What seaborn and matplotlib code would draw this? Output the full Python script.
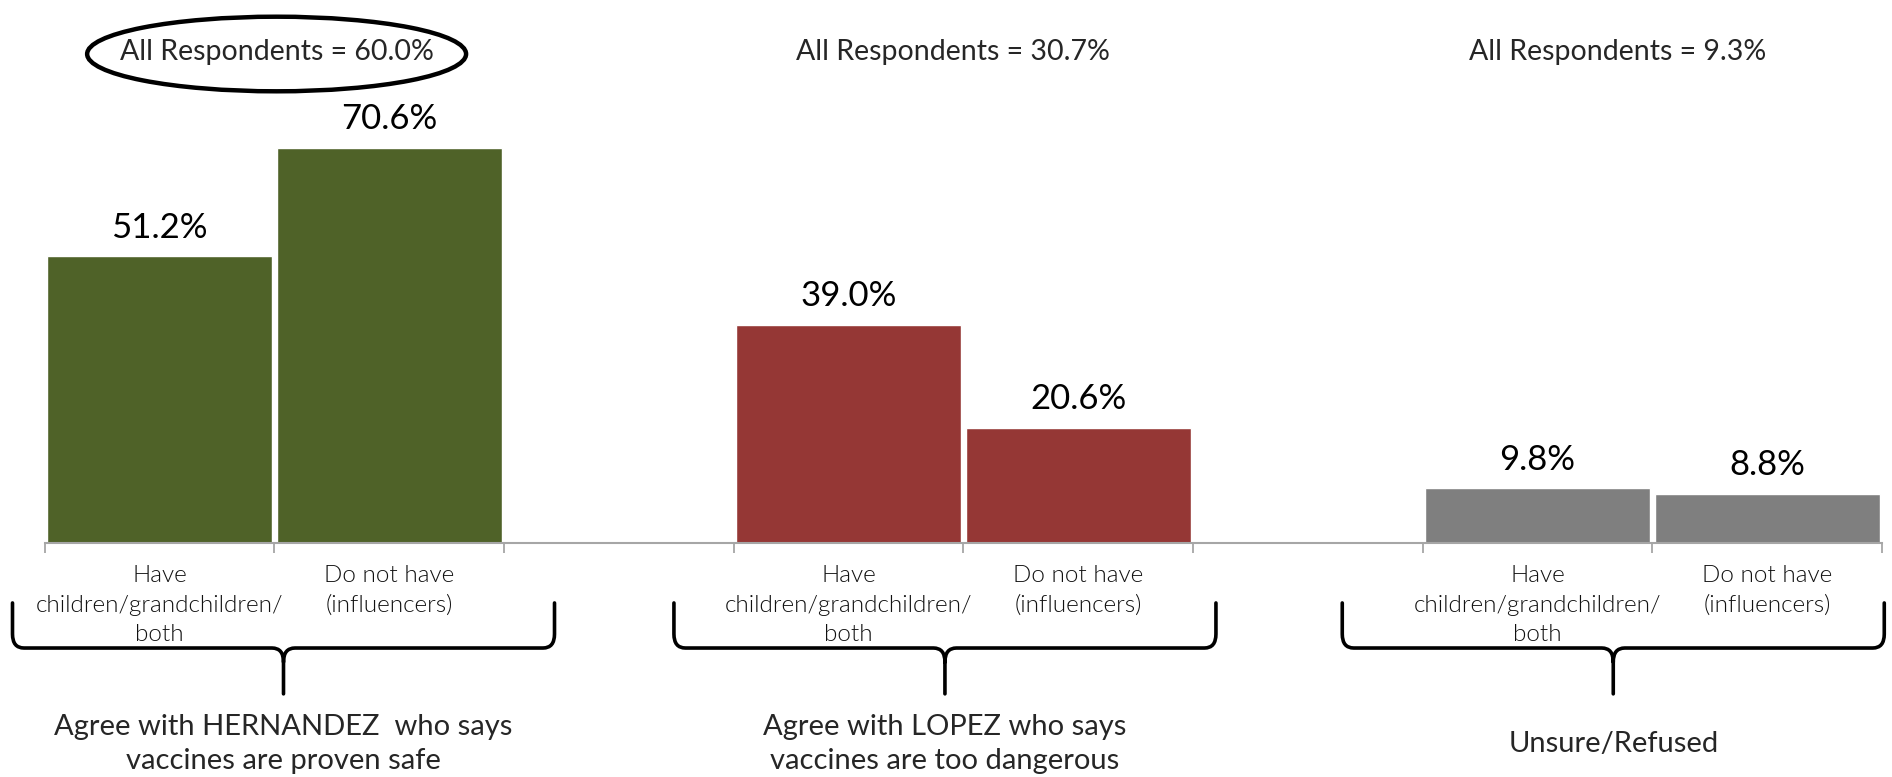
import numpy as np
import pandas as pd
import matplotlib
matplotlib.use("Agg")
import matplotlib.pyplot as plt
import matplotlib.transforms as mtransforms
from matplotlib.path import Path
from matplotlib.patches import PathPatch, Ellipse
import seaborn as sns

# data
groups = ["Agree with HERNANDEZ  who says\nvaccines are proven safe",
          "Agree with LOPEZ who says\nvaccines are too dangerous",
          "Unsure/Refused"]
subgroups = ["Have\nchildren/grandchildren/\nboth", "Do not have\n(influencers)"]
have_kids = [51.2, 39.0, 9.8]
no_kids = [70.6, 20.6, 8.8]
all_resp = [60.0, 30.7, 9.3]
colors = ["#4F6228", "#953735", "#7F7F7F"]

# each group gets two slots, one empty slot between groups
rows = []
for i, g in enumerate(groups):
    rows.append({"slot": 3 * i, "pct": have_kids[i], "group": g, "sub": subgroups[0]})
    rows.append({"slot": 3 * i + 1, "pct": no_kids[i], "group": g, "sub": subgroups[1]})
df = pd.DataFrame(rows)

# layout (x in data units) for the header texts and braces
head_x = [0.51, 3.455, 6.35]
brace_x = [0.54, 3.42, 6.33]
brace_half = 1.18

sns.set_theme(style="white")
plt.rcParams["font.family"] = ["Lato", "DejaVu Sans"]

fig = plt.figure(figsize=(18.92, 7.77), dpi=100)
ax = fig.add_axes([0.0236, 0.3012, 0.9711, 0.5405])

sns.barplot(data=df, x="slot", y="pct", hue="group", palette=colors,
            native_scale=True, dodge=False, width=0.98, saturation=1,
            legend=False, ax=ax)

for c in ax.containers:
    ax.bar_label(c, fmt="%.1f%%", padding=9, fontsize=25, color="black")

ax.set_xlim(-0.5, 7.5)
ax.set_ylim(0, 75)
ax.set_xticks(df["slot"], labels=df["sub"])
ax.set_xticks(np.arange(-0.5, 8, 1), minor=True)
ax.tick_params(axis="x", which="major", bottom=True, length=0, pad=16,
               labelsize=17.5, labelcolor="#111111")
ax.tick_params(axis="x", which="minor", bottom=True, length=7, width=1.3,
               color="#A6A6A6", direction="out")
for lbl in ax.get_xticklabels():
    lbl.set_linespacing(1.5)
    lbl.set_fontweight(300)
ax.set_yticks([])
ax.set_xlabel("")
ax.set_ylabel("")
for s in ["left", "top", "right"]:
    ax.spines[s].set_visible(False)
ax.spines["bottom"].set_color("#A6A6A6")
ax.spines["bottom"].set_linewidth(1.5)

trans = mtransforms.blended_transform_factory(ax.transData, fig.transFigure)

# "All Respondents" headers
for x, v in zip(head_x, all_resp):
    ax.text(x, 0.933, f"All Respondents = {v:.1f}%", transform=trans,
            ha="center", va="center", fontsize=20.5, clip_on=False)
ax.add_patch(Ellipse((head_x[0], 0.9305), 1.65, 0.096, transform=trans,
                     fill=False, edgecolor="black", lw=3.2, clip_on=False))


# curly braces under the groups
def brace(xc, half, y_top=0.224, y_mid=0.166, y_tip=0.107, rx=0.05, ry=0.018):
    x0, x1 = xc - half, xc + half
    verts = [(x0, y_top), (x0, y_mid + ry), (x0, y_mid), (x0 + rx, y_mid),
             (xc - rx, y_mid), (xc, y_mid), (xc, y_mid - ry), (xc, y_tip),
             (xc, y_mid - ry), (xc, y_mid), (xc + rx, y_mid),
             (x1 - rx, y_mid), (x1, y_mid), (x1, y_mid + ry), (x1, y_top)]
    codes = [Path.MOVETO, Path.LINETO, Path.CURVE3, Path.CURVE3,
             Path.LINETO, Path.CURVE3, Path.CURVE3, Path.LINETO,
             Path.MOVETO, Path.CURVE3, Path.CURVE3,
             Path.LINETO, Path.CURVE3, Path.CURVE3, Path.LINETO]
    return PathPatch(Path(verts, codes), transform=trans, fill=False,
                     edgecolor="black", lw=2.6, clip_on=False,
                     capstyle="round", joinstyle="round")


for x, g in zip(brace_x, groups):
    ax.add_patch(brace(x, brace_half))
    ax.text(x, 0.0425, g, transform=trans, ha="center", va="center",
            fontsize=21, linespacing=1.35, clip_on=False)

fig.savefig("out.png", dpi=100, facecolor="white")
